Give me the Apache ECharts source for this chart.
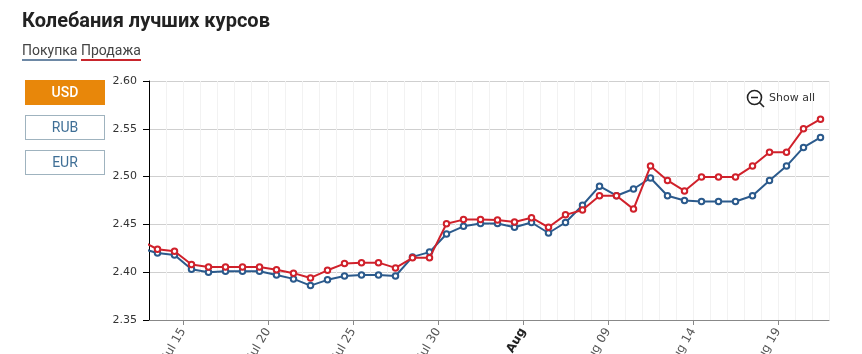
<!DOCTYPE html>
<html>
<head>
<meta charset="utf-8">
<title>Колебания лучших курсов</title>
<script src="https://cdn.jsdelivr.net/npm/echarts@6/dist/echarts.min.js"></script>
<style>
  html, body { margin: 0; padding: 0; background: #fff; overflow: hidden; }
  #page { position: relative; width: 862px; height: 354px; font-family: Roboto, sans-serif; }
  #chart-root { position: absolute; left: 0; top: 0; width: 862px; height: 354px; }
  .title { position: absolute; left: 22px; top: 8px; font-size: 20px; line-height: 24px; font-weight: 700; color: #222; white-space: nowrap; }
  .legend-item { position: absolute; top: 42px; height: 17px; font-size: 14px; line-height: 17px; color: #444; white-space: nowrap; border-bottom: 2px solid; }
  .btn { position: absolute; left: 25px; width: 78px; height: 23px; line-height: 23px; text-align: center; font-size: 14px; color: #3f6f96; border: 1px solid #9fb3bf; background: #fff; }
  .btn.active { background: #e8870a; border-color: #e8870a; color: #fff; font-weight: 500; }
  .show-all { position: absolute; left: 769px; top: 91px; font: 11px "DejaVu Sans", sans-serif; line-height: 14px; color: #333; white-space: nowrap; }
  .zoom-icon { position: absolute; left: 745px; top: 88px; }
</style>
</head>
<body>
<div id="page">
  <div id="chart-root"></div>
  <div class="title">Колебания лучших курсов</div>
  <div class="legend-item" style="left:22px;border-color:#6d88a5">Покупка</div>
  <div class="legend-item" style="left:81px;border-color:#c8252c">Продажа</div>
  <div class="btn active" style="top:80px">USD</div>
  <div class="btn" style="top:115px">RUB</div>
  <div class="btn" style="top:150px">EUR</div>
  <svg class="zoom-icon" width="22" height="22">
    <circle cx="9.5" cy="9.5" r="7" fill="none" stroke="#222" stroke-width="1.6"/>
    <path d="M6 9.5h7M14.5 14.5l4.5 4.5" stroke="#222" stroke-width="1.6" fill="none"/>
  </svg>
  <div class="show-all">Show all</div>
</div>

<script>
// day number counted from Jul 1, points sit at noon of each day
const days = [12.5, 13.5, 14.5, 15.5, 16.5, 17.5, 18.5, 19.5, 20.5, 21.5, 22.5, 23.5, 24.5, 25.5,
  26.5, 27.5, 28.5, 29.5, 30.5, 31.5, 32.5, 33.5, 34.5, 35.5, 36.5, 37.5, 38.5, 39.5,
  40.5, 41.5, 42.5, 43.5, 44.5, 45.5, 46.5, 47.5, 48.5, 49.5, 50.5, 51.5, 52.5]
const buyRates = [2.425, 2.42, 2.418, 2.403, 2.4, 2.401, 2.401, 2.401, 2.397, 2.393, 2.386, 2.392, 2.396, 2.397,
  2.397, 2.396, 2.416, 2.421, 2.44, 2.448, 2.451, 2.451, 2.447, 2.452, 2.441, 2.452, 2.47, 2.49,
  2.48, 2.487, 2.4985, 2.48, 2.475, 2.474, 2.474, 2.474, 2.48, 2.496, 2.511, 2.5305, 2.541]
const sellRates = [2.433, 2.424, 2.422, 2.408, 2.4055, 2.4055, 2.4055, 2.4055, 2.4025, 2.399, 2.394, 2.402, 2.409, 2.41,
  2.41, 2.4045, 2.415, 2.415, 2.4507, 2.455, 2.455, 2.4545, 2.4525, 2.457, 2.447, 2.46, 2.465, 2.48,
  2.48, 2.466, 2.511, 2.496, 2.485, 2.4995, 2.4995, 2.4995, 2.511, 2.5255, 2.5255, 2.55, 2.56]
const tickDays = [15, 20, 25, 30, 35, 40, 45, 50]
const tickLabels = ['Jul 15', 'Jul 20', 'Jul 25', 'Jul 30', 'Aug', 'Aug 09', 'Aug 14', 'Aug 19']

const fontName = '"DejaVu Sans", sans-serif'

function rateSeries (name, values, color, z) {
  return {
    name: name,
    type: 'line',
    z: z,
    clip: true,
    symbol: 'circle',
    symbolSize: 5.5,
    showSymbol: true,
    animation: false,
    lineStyle: { width: 2, color: color },
    itemStyle: { color: '#fff', borderColor: color, borderWidth: 2 },
    data: days.map((d, i) => [d, values[i]])
  }
}

let chart = echarts.init(document.getElementById('chart-root'), null, { renderer: 'canvas' })
chart.setOption({
  animation: false,
  // labels run off the bottom of the picture, the grid must not shrink for them
  grid: { left: 149, right: 33, top: 81, bottom: 34, outerBoundsMode: 'none' },
  xAxis: [
    {
      type: 'value',
      min: 13,
      max: 53,
      interval: 1,
      axisLine: { show: true, onZero: false, lineStyle: { color: '#888', width: 1 } },
      axisTick: { show: true, length: 5, customValues: tickDays, lineStyle: { color: '#888' } },
      axisLabel: {
        customValues: tickDays,
        rotate: 60,
        margin: 9,
        color: '#555',
        fontFamily: fontName,
        fontSize: 12,
        formatter: value => {
          let label = tickLabels[tickDays.indexOf(value)]
          return label === 'Aug' ? '{b|Aug}' : label
        },
        rich: { b: { fontWeight: 'bold', color: '#222', fontFamily: fontName, fontSize: 12 } }
      },
      splitLine: { show: true, lineStyle: { color: '#e2e2e2', width: 1 } }
    },
    {
      // thin daily lines
      type: 'value',
      min: 13,
      max: 53,
      interval: 1,
      position: 'bottom',
      axisLine: { show: false },
      axisTick: { show: false },
      axisLabel: { show: false },
      splitLine: { show: true, lineStyle: { color: '#f2f2f2', width: 1 } }
    }
  ],
  yAxis: {
    type: 'value',
    min: 2.35,
    max: 2.6,
    interval: 0.05,
    axisLine: { show: true, lineStyle: { color: '#000', width: 1 } },
    axisTick: { show: true, length: 6, lineStyle: { color: '#000' } },
    axisLabel: {
      margin: 12,
      color: '#333',
      fontFamily: fontName,
      fontSize: 11,
      formatter: value => value.toFixed(2)
    },
    splitLine: { show: true, lineStyle: { color: '#cfcfcf', width: 1 } }
  },
  series: [
    rateSeries('Покупка', buyRates, '#2b5a8c', 3),
    rateSeries('Продажа', sellRates, '#d0212b', 4)
  ]
})
</script>
</body>
</html>
